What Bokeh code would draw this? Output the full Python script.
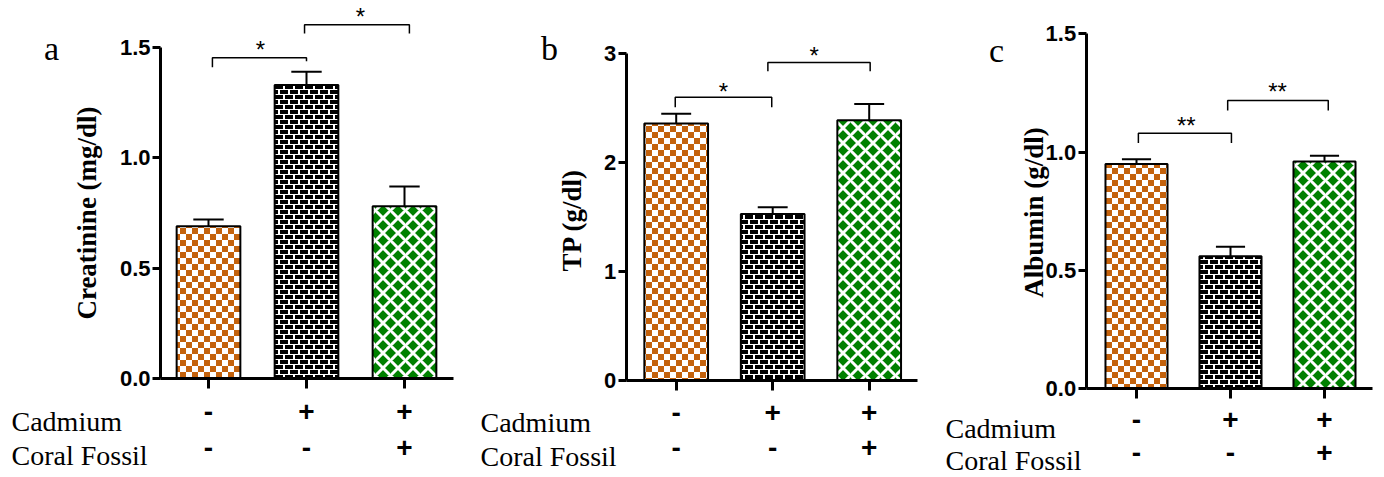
import math, zlib, struct, base64
from bokeh.plotting import figure
from bokeh.models import (Range1d, FixedTicker, PrintfTickFormatter, Label, LabelSet, LinearAxis,
                          ColumnDataSource, ImageURLTexture)
from bokeh.core.properties import value
from bokeh.layouts import row
from bokeh.embed import file_html
from bokeh.resources import INLINE

# ---------------- data ----------------
groups = [1, 2, 3]
cadmium = ["-", "+", "+"]
coral_fossil = ["-", "-", "+"]

creatinine_mean = [0.69, 1.33, 0.78]
creatinine_sem = [0.03, 0.06, 0.09]
tp_mean = [2.36, 1.53, 2.39]
tp_sem = [0.09, 0.06, 0.15]
albumin_mean = [0.95, 0.56, 0.96]
albumin_sem = [0.02, 0.04, 0.025]

# significance brackets: left x, right x, top, left leg end, right leg end
creatinine_brackets = [(1.04, 2.00, 1.453, 1.41, 1.438), (1.98, 3.05, 1.603, 1.563, 1.563)]
creatinine_stars = [("*", 1.53, 1.49), ("*", 2.55, 1.638)]
tp_brackets = [(0.99, 1.99, 2.60, 2.51, 2.51), (1.95, 3.01, 2.92, 2.84, 2.84)]
tp_stars = [("*", 1.49, 2.65), ("*", 2.43, 2.98)]
albumin_brackets = [(1.02, 2.01, 1.080, 1.038, 1.038), (1.97, 3.04, 1.218, 1.176, 1.176)]
albumin_stars = [("**", 1.53, 1.113), ("**", 2.50, 1.257)]

# ---------------- styles ----------------
ORANGE = (196, 98, 12)
bar_fill = ["white", "black", "#008000"]
hatch_names = ["checker", "brick", "diagonal_cross"]
hatch_colors = ["#C4620C", "black", "white"]
hatch_scales = [12, 10, 15]
hatch_weights = [1, 1, 3]


def checker_px(x, y):
    return ORANGE if ((x // 6) + (y // 6)) % 2 == 0 else (255, 255, 255)


def brick_px(x, y):
    r = y // 5
    if y % 5 == 4:
        return (255, 255, 255)
    xx = (x + (5 if r % 2 else 0)) % 10
    return (255, 255, 255) if xx >= 8 else (0, 0, 0)


def png_url(fn, w, h):
    raw = b"".join(b"\x00" + bytes(c for x in range(w) for c in fn(x, y)) for y in range(h))

    def chunk(t, d):
        return struct.pack(">I", len(d)) + t + d + struct.pack(">I", zlib.crc32(t + d) & 0xffffffff)

    data = (b"\x89PNG\r\n\x1a\n" + chunk(b"IHDR", struct.pack(">IIBBBBB", w, h, 8, 2, 0, 0, 0))
            + chunk(b"IDAT", zlib.compress(raw)) + chunk(b"IEND", b""))
    return "data:image/png;base64," + base64.b64encode(data).decode()


textures = {"checker": ImageURLTexture(url=png_url(checker_px, 12, 12)),
            "brick": ImageURLTexture(url=png_url(brick_px, 10, 10))}

H = 475
PANEL_W = 460
SERIF = "Liberation Serif"
SANS = "Liberation Sans"


def make_panel(left, axis_x, axis_end, x1, dx, y0, dy, axis_top, ticks, fmt,
               means, sems, brackets, stars, ylabel, ylabel_px, letter, letter_px,
               text_left, cad_base, cor_base, sign_y1, sign_y2, bar_w):
    X = lambda px: 1 + (px - x1) / dx
    Y = lambda py: (y0 - py) / dy
    p = figure(width=PANEL_W, height=H,
               x_range=Range1d(X(left), X(left + PANEL_W)), y_range=Range1d(Y(H), Y(0)),
               output_backend="svg", toolbar_location=None,
               x_axis_location=None, y_axis_location=None, min_border=0)
    p.outline_line_color = None
    p.grid.visible = False
    p.background_fill_color = "white"
    p.border_fill_color = "white"

    xa = LinearAxis(fixed_location=0, bounds=(X(axis_x), X(axis_end)),
                    ticker=FixedTicker(ticks=groups), major_label_text_color=None,
                    axis_line_width=3, axis_line_color="black", major_tick_line_width=3,
                    major_tick_line_color="black", major_tick_out=10,
                    major_tick_in=0, minor_tick_line_color=None)
    p.add_layout(xa, "below")
    ya = LinearAxis(fixed_location=X(axis_x), bounds=(0, axis_top),
                    ticker=FixedTicker(ticks=ticks), formatter=PrintfTickFormatter(format=fmt),
                    axis_line_width=3, axis_line_color="black", major_tick_line_width=3,
                    major_tick_line_color="black", major_tick_out=8,
                    major_tick_in=0, minor_tick_line_color=None,
                    major_label_text_font=SANS, major_label_text_font_style="bold",
                    major_label_text_font_size="22px", major_label_text_color="black",
                    major_label_standoff=2)
    p.add_layout(ya, "left")

    src = ColumnDataSource(dict(x=groups, top=means, fill=bar_fill, hatch=hatch_names,
                                hcolor=hatch_colors, hscale=hatch_scales, hweight=hatch_weights))
    p.vbar(x="x", top="top", bottom=0, width=bar_w, source=src, fill_color="fill",
           line_color="black", line_width=2, hatch_pattern="hatch", hatch_color="hcolor",
           hatch_scale="hscale", hatch_weight="hweight", hatch_extra=textures)

    err_top = [m + s for m, s in zip(means, sems)]
    esrc = ColumnDataSource(dict(x=groups, y0=means, y1=err_top,
                                 cl=[g - 0.155 for g in groups], cr=[g + 0.155 for g in groups]))
    p.segment(x0="x", y0="y0", x1="x", y1="y1", source=esrc, line_color="black", line_width=2)
    p.segment(x0="cl", y0="y1", x1="cr", y1="y1", source=esrc, line_color="black", line_width=2)

    xs = [[b[0], b[0], b[1], b[1]] for b in brackets]
    ys = [[b[3], b[2], b[2], b[4]] for b in brackets]
    p.multi_line(xs=xs, ys=ys, line_color="black", line_width=1.5)
    for txt, sx, sy in stars:
        p.add_layout(Label(x=sx, y=sy, text=txt, text_font=SANS, text_font_size="24px",
                           text_align="center", text_baseline="middle", text_color="black"))

    p.add_layout(Label(x=X(ylabel_px[0]), y=Y(ylabel_px[1]), text=ylabel, angle=math.pi / 2,
                       text_font=SERIF, text_font_style="bold", text_font_size="27px",
                       text_align="center", text_baseline="middle", text_color="black"))
    p.add_layout(Label(x=X(letter_px[0]), y=Y(letter_px[1]), text=letter, text_font=SERIF,
                       text_font_size="34px", text_align="center",
                       text_baseline="alphabetic", text_color="black"))
    p.add_layout(Label(x=X(text_left), y=Y(cad_base), text="Cadmium", text_font=SERIF,
                       text_font_size="28px", text_align="left",
                       text_baseline="alphabetic", text_color="black"))
    p.add_layout(Label(x=X(text_left), y=Y(cor_base), text="Coral Fossil", text_font=SERIF,
                       text_font_size="28px", text_align="left",
                       text_baseline="alphabetic", text_color="black"))
    ssrc = ColumnDataSource(dict(x=groups + groups, y=[Y(sign_y1)] * 3 + [Y(sign_y2)] * 3,
                                 t=cadmium + coral_fossil))
    p.add_layout(LabelSet(x="x", y="y", text="t", source=ssrc, text_font=value(SANS),
                          text_font_style="bold", text_font_size="28px", text_align="center",
                          text_baseline="middle", text_color="black"))
    return p


pa = make_panel(0, 160, 453, 208, 98, 378, 220.7, 1.5, [0, 0.5, 1.0, 1.5], "%.1f",
                creatinine_mean, creatinine_sem, creatinine_brackets, creatinine_stars,
                "Creatinine (mg/dl)", (86, 212.5), "a", (51, 47.7),
                11, 420.7, 455, 411, 447, 0.65)
pb = make_panel(460, 625.7, 916.7, 675.7, 96.5, 380, 108.9, 3, [0, 1, 2, 3], "%d",
                tp_mean, tp_sem, tp_brackets, tp_stars,
                "TP (g/dl)", (571.7, 219.5), "b", (549, 48.3),
                480, 421.7, 455.7, 412, 447, 0.66)
pc = make_panel(920, 1085.7, 1371.7, 1136, 94, 388.3, 236.7, 1.5, [0, 0.5, 1.0, 1.5], "%.1f",
                albumin_mean, albumin_sem, albumin_brackets, albumin_stars,
                "Albumin (g/dl)", (1033.3, 212), "c", (996, 50),
                945, 428, 460, 419, 452, 0.66)

layout = row(pa, pb, pc)
open("out.html", "w").write(file_html(layout, INLINE))
